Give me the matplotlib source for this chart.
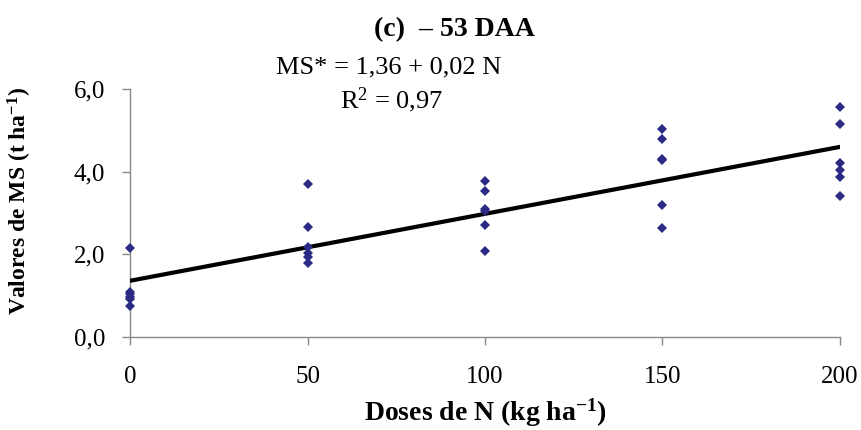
import matplotlib
matplotlib.use("Agg")
import matplotlib.pyplot as plt
import numpy as np

plt.rcParams['font.family'] = ['Liberation Serif', 'DejaVu Serif']
plt.rcParams['mathtext.fontset'] = 'custom'
plt.rcParams['mathtext.rm'] = 'Liberation Serif'
plt.rcParams['mathtext.it'] = 'Liberation Serif'
plt.rcParams['mathtext.bf'] = 'Liberation Serif:bold'

# doses de N and dry matter values
doses = [0, 0, 0, 0, 0, 0,
         50, 50, 50, 50, 50, 50,
         100, 100, 100, 100, 100, 100,
         150, 150, 150, 150, 150, 150,
         200, 200, 200, 200, 200, 200]
ms = [2.15, 1.10, 1.04, 0.97, 0.92, 0.74,
      3.71, 2.66, 2.18, 2.03, 1.94, 1.79,
      3.77, 3.54, 3.10, 3.06, 2.72, 2.09,
      5.04, 4.79, 4.31, 4.28, 3.20, 2.64,
      5.57, 5.16, 4.20, 4.05, 3.87, 3.40]

# fitted line (drawn), intercept and slope
b0 = 1.36
b1 = 0.0162

x_ticks = [0, 50, 100, 150, 200]
y_ticks = [0.0, 2.0, 4.0, 6.0]
y_labels = ["0,0", "2,0", "4,0", "6,0"]

fig = plt.figure(figsize=(8.61, 4.30), dpi=100)
ax = fig.add_axes([0.151, 0.2163, 0.8246, 0.5767])

ax.plot(doses, ms, linestyle='none', marker='D', markersize=5.4,
        color='#2b2a84', markeredgewidth=0, zorder=3, clip_on=False)

xl = np.array([0, 200])
ax.plot(xl, b0 + b1 * xl, color='black', linewidth=3, zorder=2)

ax.set_xlim(0, 200)
ax.set_ylim(0, 6)
ax.set_xticks(x_ticks)
ax.set_xticklabels([str(v) for v in x_ticks])
ax.set_yticks(y_ticks)
ax.set_yticklabels(y_labels)
ax.tick_params(labelsize=18, color='#888888', length=5.8, width=1, pad=12)
ax.tick_params(axis='x', pad=15)

for s in ['top', 'right']:
    ax.spines[s].set_visible(False)
for s in ['left', 'bottom']:
    ax.spines[s].set_color('#888888')
    ax.spines[s].set_linewidth(1)
ax.spines['left'].set_zorder(1)

ax.set_xlabel(r"Doses de N (kg ha$^{\mathbf{-1}}$)", fontsize=20,
              fontweight='bold')
ax.xaxis.set_label_coords(0.501, -0.24)
ax.set_ylabel(r"Valores de MS (t ha$^{\mathbf{-1}}$)", fontsize=17,
              fontweight='bold')
ax.yaxis.set_label_coords(-0.135, 0.55)

fig.text(0.528, 0.93, "(c)  \u2013 53 DAA", ha='center', va='center',
         fontsize=20, fontweight='bold')
fig.text(0.451, 0.842, "MS* = 1,36 + 0,02 N", ha='center', va='center',
         fontsize=19)
fig.text(0.455, 0.767, r"R$^{2}$ = 0,97", ha='center', va='center',
         fontsize=19)

fig.savefig("out.png", dpi=100)
